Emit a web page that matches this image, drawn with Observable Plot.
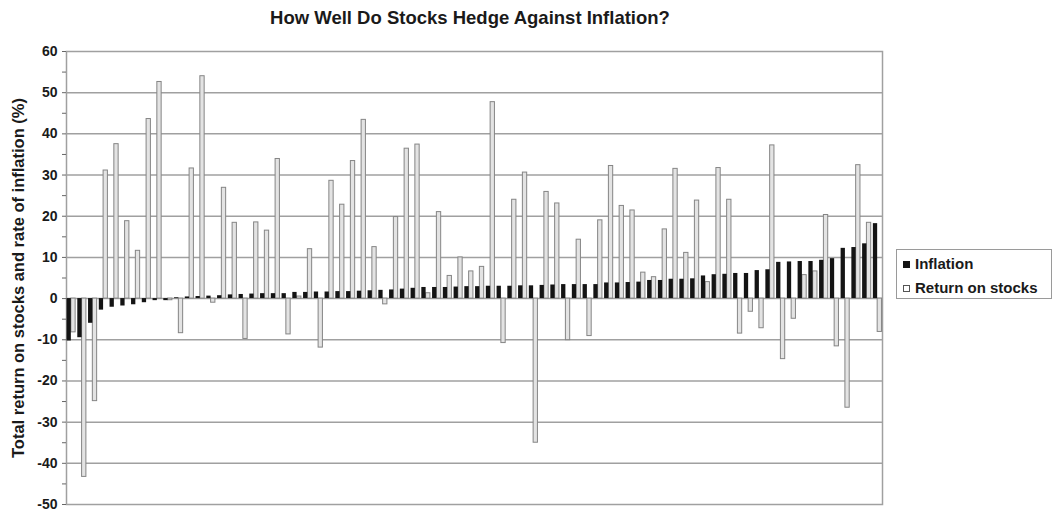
<!DOCTYPE html>
<html>
<head>
<meta charset="utf-8">
<script src="https://cdn.jsdelivr.net/npm/d3@7"></script>
<script src="https://cdn.jsdelivr.net/npm/@observablehq/plot@0.6"></script>
<style>
  body { margin: 0; background: #fff; font-family: "Liberation Sans", Arial, Helvetica, sans-serif; }
  #wrap { position: relative; width: 1052px; height: 512px; overflow: hidden; background: #fff; }
  #title { position: absolute; left: 0; top: 8px; width: 940px; text-align: center; font-weight: bold; font-size: 18.5px; line-height: 20px; color: #1a1a1a; }
  #chart { position: absolute; left: 0; top: 39px; }
  #legend { position: absolute; left: 896px; top: 249px; width: 156px; height: 50px; border: 1px solid #9a9a9a; box-sizing: border-box; background: #fff; }
  .item { position: absolute; left: 6px; height: 18px; line-height: 18px; font-size: 15px; font-weight: bold; color: #1a1a1a; white-space: nowrap; }
  .sw { display: inline-block; width: 7px; height: 7px; margin-right: 5px; vertical-align: 1px; box-sizing: border-box; }
</style>
</head>
<body>
<div id="wrap">
  <div id="title">How Well Do Stocks Hedge Against Inflation?</div>
  <div id="chart"></div>
  <div id="legend"></div>
</div>
<script>
// Years, sorted by the rate of inflation (as in the chart)
const years = [1932,1931,1930,1938,1927,1949,1926,1928,1954,1939,1929,1955,1933,1953,1961,1952,1940,1986,1964,1936,
  1962,1960,1959,2001,1998,1963,1997,1958,1965,1934,1944,1945,1995,1994,1999,1948,1993,1956,1992,1935,
  1957,1967,1991,1937,1943,1996,1966,1971,2000,1972,1985,1983,1982,1984,1987,1988,1989,1968,1976,1970,
  1950,1951,1969,1990,1977,1975,1973,1981,1947,1978,1942,1941,1974,1980,1979,1946];

// Inflation rate (%)
const inflation = [-10.3,-9.5,-6.0,-2.8,-2.1,-1.8,-1.5,-1.0,-0.5,-0.5,0.2,0.4,0.5,0.6,0.7,0.9,1.0,1.1,1.2,1.2,
  1.2,1.5,1.5,1.6,1.6,1.7,1.7,1.8,1.9,2.0,2.1,2.3,2.5,2.7,2.7,2.7,2.8,2.9,2.9,3.0,
  3.0,3.0,3.1,3.1,3.2,3.3,3.4,3.4,3.4,3.4,3.8,3.8,3.9,4.0,4.4,4.4,4.7,4.7,4.8,5.5,
  5.8,5.9,6.1,6.1,6.8,7.0,8.8,8.9,9.0,9.0,9.3,9.7,12.2,12.4,13.3,18.2];

// Total return on stocks (%)
const returns = [-8.2,-43.3,-24.9,31.1,37.5,18.8,11.6,43.6,52.6,-0.4,-8.4,31.6,54.0,-1.0,26.9,18.4,-9.8,18.5,16.5,33.9,
  -8.7,0.5,12.0,-11.9,28.6,22.8,33.4,43.4,12.5,-1.4,19.8,36.4,37.4,1.3,21.0,5.5,10.0,6.6,7.7,47.7,
  -10.8,24.0,30.6,-35.0,25.9,23.1,-10.1,14.3,-9.1,19.0,32.2,22.5,21.4,6.3,5.2,16.8,31.5,11.1,23.8,4.0,
  31.7,24.0,-8.5,-3.2,-7.2,37.2,-14.7,-4.9,5.7,6.6,20.3,-11.6,-26.5,32.4,18.4,-8.1];

const yTicks = [-50,-40,-30,-20,-10,0,10,20,30,40,50,60];
const yMinorTicks = [-45,-35,-25,-15,-5,5,15,25,35,45,55];
const gridValues = [-40,-30,-20,-10,0,10,20,30,40,50];

const seriesNames = ["Inflation", "Return on stocks"];
const yLabel = "Total return on stocks and rate of inflation (%)";

const rows = years.map((year, i) => ({year: String(year), infl: inflation[i], ret: returns[i]}));

const W = 1052, H = 473, ML = 66, MR = 170, MT = 12, MB = 8;
const PI = 0.2, PO = 0.05;
const step = (W - ML - MR) / (years.length - PI + 2 * PO);
const half = step * (1 - PI) / 2;

const font = '"Liberation Sans", Arial, Helvetica, sans-serif';

const chart = Plot.plot({
  width: W, height: H,
  marginLeft: ML, marginRight: MR, marginTop: MT, marginBottom: MB,
  style: {fontFamily: font, fontSize: "14px", color: "#1a1a1a", background: "transparent"},
  x: {type: "band", domain: years.map(String), paddingInner: PI, paddingOuter: PO, axis: null},
  y: {domain: [-50, 60], label: null},
  marks: [
    Plot.gridY(gridValues, {stroke: "#a0a0a0", strokeOpacity: 1, strokeWidth: 1.5}),
    Plot.frame({stroke: "#a0a0a0", strokeWidth: 1.5}),
    Plot.axisY(yTicks, {tickSize: 4, tickPadding: 5, tickFormat: d => `${d}`, label: null, fontWeight: "bold", stroke: "#666"}),
    Plot.axisY(yMinorTicks, {tickSize: 4, tickFormat: () => "", label: null, stroke: "#666"}),
    Plot.barY(rows, {x: "year", y: "ret", fill: "#e3e3e3", stroke: "#858585", strokeWidth: 1, insetLeft: half}),
    Plot.barY(rows, {x: "year", y: "infl", fill: "#141414", insetRight: half}),
    Plot.text([yLabel], {frameAnchor: "left", dx: -48, rotate: -90, textAnchor: "middle", text: d => d, fontSize: 16.5, fontWeight: "bold", fill: "#1a1a1a"})
  ]
});
document.getElementById("chart").appendChild(chart);

const legend = document.getElementById("legend");
const swatchStyles = ["background:#141414;", "background:#fff;border:1px solid #555;"];
seriesNames.forEach((name, i) => {
  const item = document.createElement("div");
  item.className = "item";
  item.style.top = (5 + i * 24) + "px";
  item.innerHTML = `<span class="sw" style="${swatchStyles[i]}"></span>${name}`;
  legend.appendChild(item);
});
</script>
</body>
</html>
